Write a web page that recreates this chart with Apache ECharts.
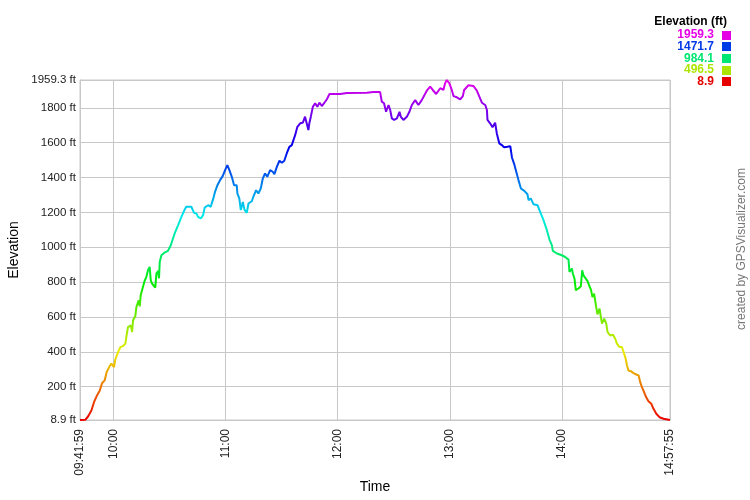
<!DOCTYPE html>
<html><head><meta charset="utf-8">
<script src="https://cdn.jsdelivr.net/npm/echarts@6/dist/echarts.min.js"></script>
<style>html,body{margin:0;padding:0;background:#fff}#chart{width:750px;height:500px}</style>
</head><body><div id="chart"></div>
<script>
const START_TIME = '09:41:59';
const END_TIME = '14:57:55';
const HOUR_TICKS = ['10:00', '11:00', '12:00', '13:00', '14:00'];
const Y_MIN = 8.9;
const Y_MAX = 1959.3;
const Y_TICKS = [8.9, 200, 400, 600, 800, 1000, 1200, 1400, 1600, 1800, 1959.3];
const LEGEND_VALUES = [1959.3, 1471.7, 984.1, 496.5, 8.9];

// minutes elapsed since START_TIME
const ELAPSED_MIN = [0,2.8,4.3,6.1,7.5,9.1,10.6,11.8,13.2,14.3,
15.9,16.8,18.2,18.9,20.4,21.6,23.0,24.3,24.8,25.7,
27.2,27.9,28.4,29.6,30.2,31.4,32.0,32.5,33.7,34.7,
35.5,36.4,37.3,37.9,38.6,39.6,40.3,40.9,41.8,42.3,
42.7,43.6,45.0,47.1,48.6,49.8,50.7,52.5,54.3,56.1,
56.9,59.6,61.1,62.3,63.2,64.7,65.9,66.8,68.6,70.0,
71.4,72.3,73.6,75.0,76.4,77.7,78.9,80.0,81.3,82.5,
83.9,84.3,85.3,86.1,87.2,88.0,89.3,90.2,92.0,92.8,
94.3,95.5,96.8,97.9,99.1,100.3,101.8,103.2,104.1,105.4,
106.8,108.1,109.4,110.7,112.1,113.4,114.3,115.2,116.4,117.9,
119.3,120.5,121.4,122.3,122.8,123.6,124.7,125.9,127.1,128.2,
129.5,130.7,132.2,133.6,139.3,142.9,153.6,157.1,160.7,161.6,
162.8,163.9,165.2,166.1,167.0,168.2,169.7,171.1,171.8,173.2,
175.0,176.4,177.7,179.5,181.2,183.0,185.7,187.5,188.9,190.7,
192.9,194.6,195.5,196.4,197.8,199.1,200.0,201.8,203.6,205.0,
205.7,208.0,210.7,212.5,213.9,215.2,217.0,217.9,218.2,219.6,
220.9,222.3,223.2,224.5,225.9,227.1,228.9,230.4,231.3,232.5,
233.6,234.8,236.1,237.9,239.6,240.2,241.4,242.8,245.0,246.4,
248.2,250.0,251.4,252.7,253.2,255.4,258.0,259.8,261.6,262.1,
263.4,263.9,264.8,265.5,266.9,268.2,268.9,269.6,270.5,271.8,
272.8,273.6,274.4,275.3,276.3,276.4,277.1,278.2,279.1,279.5,
280.7,281.8,282.5,283.9,285.4,286.6,287.5,288.9,290.2,291.1,
292.2,292.9,293.7,295.0,296.4,297.9,299.1,300.0,300.9,302.1,
303.2,304.4,305.9,307.1,308.6,310.3,312.5,315.93];

const ELEVATION_FT = [8.9,10,29,63,111,150,178,220,236,284,
318,332,312,356,398,427,433,447,485,542,
552,513,581,604,657,695,661,724,772,810,
829,868,887,810,791,782,768,849,864,822,
915,954,967,979,1011,1050,1079,1126,1174,1217,
1232,1232,1197,1194,1174,1165,1184,1228,1241,1232,
1280,1318,1356,1385,1408,1442,1471,1442,1404,1356,
1356,1308,1280,1213,1260,1217,1197,1251,1264,1289,
1327,1308,1337,1395,1423,1404,1442,1433,1419,1461,
1496,1484,1496,1538,1576,1586,1592,1643,1691,1711,
1714,1749,1739,1672,1711,1749,1806,1826,1806,1829,
1810,1826,1849,1879,1879,1885,1886,1890,1890,1835,
1826,1777,1816,1787,1739,1730,1739,1777,1748,1730,
1748,1777,1816,1844,1816,1844,1898,1921,1902,1879,
1912,1902,1940,1959.3,1940,1902,1867,1860,1848,1867,
1902,1929,1925,1898,1863,1829,1816,1787,1730,1711,
1688,1714,1653,1596,1586,1573,1576,1580,1515,1477,
1433,1385,1337,1323,1304,1270,1280,1247,1241,1203,
1155,1098,1044,1011,979,964,954,944,929,858,
878,849,820,753,763,776,868,839,829,806,
776,757,714,734,743,657,615,648,638,562,
590,562,513,494,498,475,447,427,427,398,
360,322,293,289,278,270,265,226,197,168,
139,117,102,73,45,25,16,8.9];

function toSec(s) { const p = s.split(':').map(Number); return p[0] * 3600 + p[1] * 60 + (p[2] || 0); }
function pad(n) { return (n < 10 ? '0' : '') + n; }
function fmtTime(sec, withSec) {
  sec = Math.round(sec);
  const h = Math.floor(sec / 3600), m = Math.floor((sec % 3600) / 60), s = sec % 60;
  return pad(h) + ':' + pad(m) + (withSec ? ':' + pad(s) : '');
}
function hsl2hex(h, s, l) {
  const k = n => (n + h / 30) % 12;
  const a = s * Math.min(l, 1 - l);
  const f = n => l - a * Math.max(-1, Math.min(k(n) - 3, Math.min(9 - k(n), 1)));
  const toHex = x => pad2(Math.round(x * 255).toString(16));
  function pad2(t) { return t.length < 2 ? '0' + t : t; }
  return '#' + toHex(f(0)) + toHex(f(8)) + toHex(f(4));
}
function elevColor(v) { return hsl2hex((v - Y_MIN) / (Y_MAX - Y_MIN) * 300, 1, 0.45); }

const START = toSec(START_TIME), END = toSec(END_TIME);
const X_TICKS = [START].concat(HOUR_TICKS.map(toSec)).concat([END]);
const data = ELAPSED_MIN.map((m, i) => [START + m * 60, ELEVATION_FT[i]]);

const stops = [];
for (let h = 0; h <= 300; h += 15) stops.push(hsl2hex(h, 1, 0.46));

const FONT = '"Liberation Sans", Arial, sans-serif';
const GRID_COLOR = '#c8c8c8';

const graphics = [
  { type: 'text', x: 727, y: 22,
    style: { text: 'Elevation (ft)', font: 'bold 12px ' + FONT, fill: '#000', align: 'right', verticalAlign: 'middle' } },
  { type: 'text', x: 742, y: 249, rotation: Math.PI / 2,
    style: { text: 'created by GPSVisualizer.com', font: '12px ' + FONT, fill: '#777', align: 'center', verticalAlign: 'middle' } }
];
LEGEND_VALUES.forEach((v, i) => {
  const cy = 35 + i * 11.7;
  const c = elevColor(v);
  graphics.push({ type: 'text', x: 714, y: cy,
    style: { text: String(v), font: 'bold 12px ' + FONT, fill: c, align: 'right', verticalAlign: 'middle' } });
  graphics.push({ type: 'rect', shape: { x: 722, y: Math.round(cy - 4.5), width: 9, height: 9 }, style: { fill: c } });
});

const chart = echarts.init(document.getElementById('chart'));
chart.setOption({
  animation: false,
  backgroundColor: '#fff',
  textStyle: { fontFamily: FONT },
  grid: { left: 80, right: 80, top: 80, bottom: 80, show: true, borderColor: GRID_COLOR, borderWidth: 1,
    containLabel: false, outerBoundsMode: 'none' },
  visualMap: { type: 'continuous', show: false, dimension: 1, min: Y_MIN, max: Y_MAX, seriesIndex: 0,
    inRange: { color: stops } },
  xAxis: {
    type: 'value', min: START, max: END,
    name: 'Time', nameLocation: 'middle', nameGap: 60, nameMoveOverlap: false,
    nameTextStyle: { fontSize: 14, color: '#000', fontFamily: FONT },
    axisLine: { show: true, lineStyle: { color: GRID_COLOR } },
    axisTick: { show: false, customValues: X_TICKS },
    splitLine: { show: true, lineStyle: { color: GRID_COLOR, width: 1 } },
    axisLabel: { customValues: X_TICKS, rotate: 90, fontSize: 12, color: '#222', margin: 9, fontFamily: FONT,
      formatter: v => fmtTime(v, Math.abs(v - START) < 1 || Math.abs(v - END) < 1) }
  },
  yAxis: {
    type: 'value', min: Y_MIN, max: Y_MAX,
    name: 'Elevation', nameLocation: 'middle', nameGap: 59, nameMoveOverlap: false,
    nameTextStyle: { fontSize: 14, color: '#000', fontFamily: FONT },
    axisLine: { show: true, lineStyle: { color: GRID_COLOR } },
    axisTick: { show: false, customValues: Y_TICKS },
    splitLine: { show: true, lineStyle: { color: GRID_COLOR, width: 1 } },
    axisLabel: { customValues: Y_TICKS, fontSize: 11.5, color: '#222', margin: 4, fontFamily: FONT,
      formatter: v => v + ' ft' }
  },
  series: [{ type: 'line', data: data, showSymbol: false, symbol: 'none', lineStyle: { width: 2 } }],
  graphic: graphics
});
</script></body></html>
